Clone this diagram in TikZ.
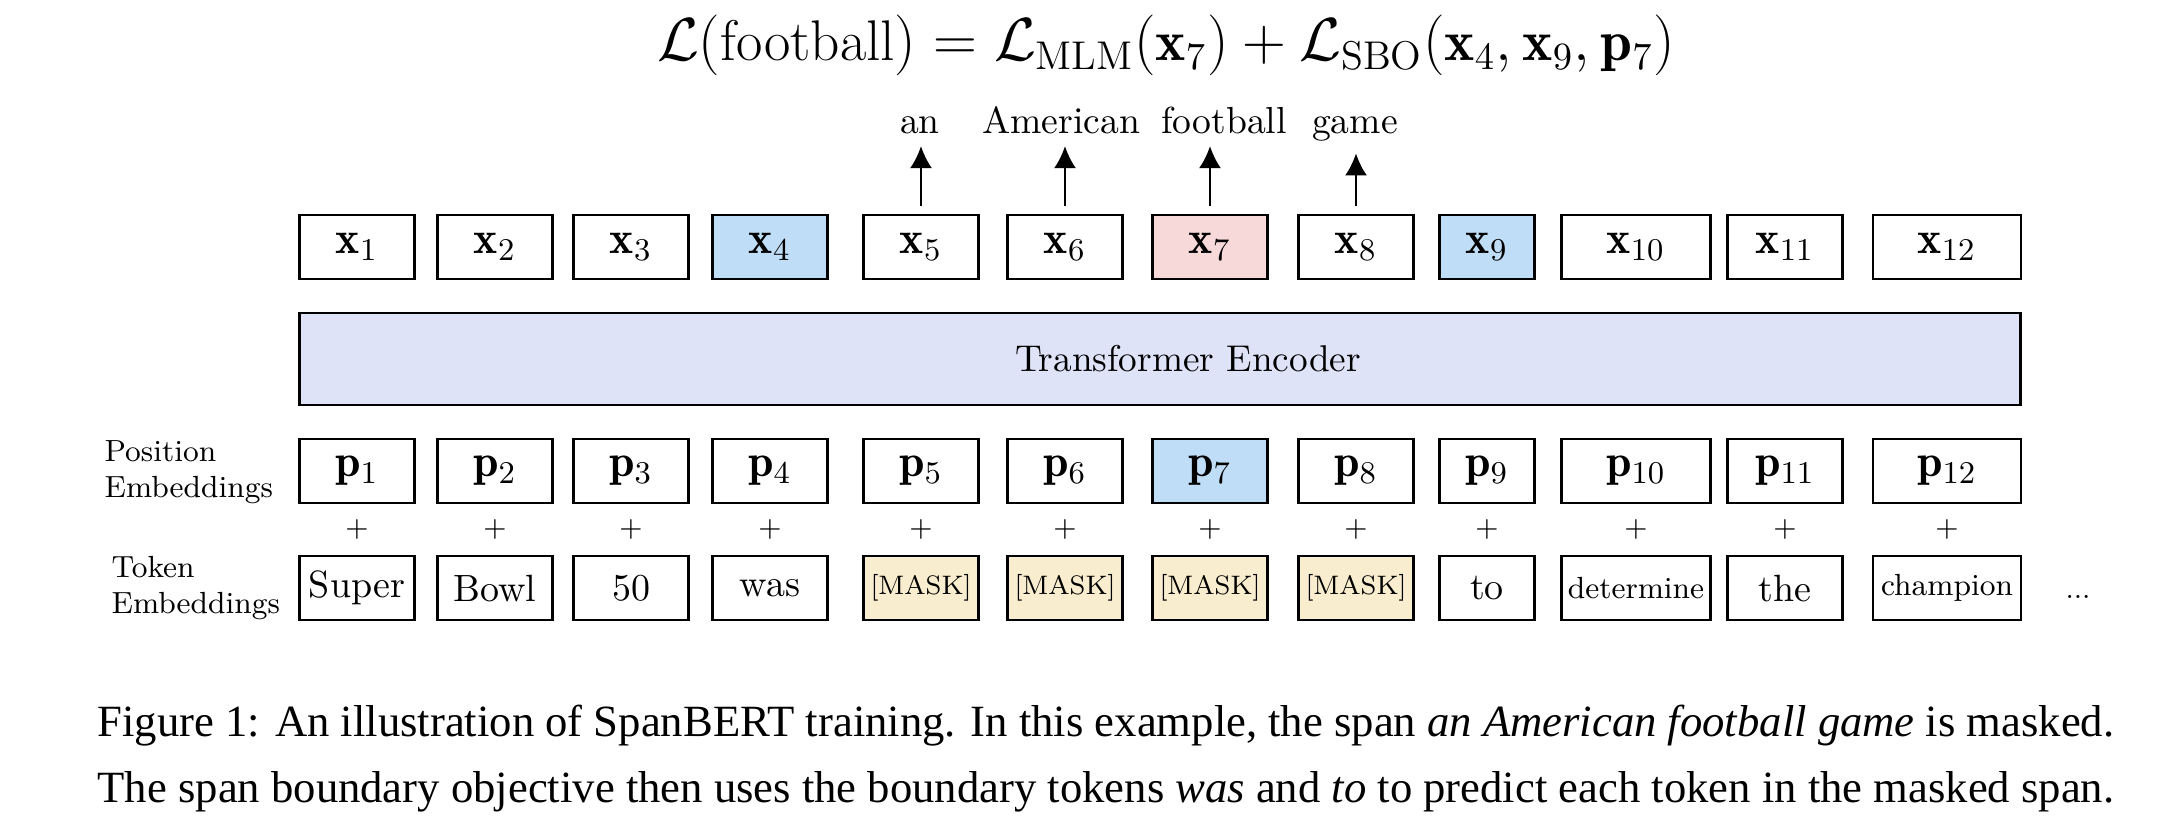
\documentclass[tikz,border=0pt]{standalone}
\usepackage{amsmath, amssymb}
\usepackage{fontspec}
\newfontfamily\capfont{Liberation Serif}
\usepackage{xcolor}
\usepackage{tikz}
\usetikzlibrary{calc, positioning, arrows.meta}

\definecolor{xanh}{HTML}{BFDDF7}
\definecolor{hong}{HTML}{F8D9DA}
\definecolor{vang}{HTML}{F8EDCE}
\definecolor{tim}{HTML}{DEE3F7}

\begin{document}
\begin{tikzpicture}[x=0.01cm, y=-0.01cm, >={Latex[length=2.2mm, width=2.2mm]},
    hop/.style={draw, line width=0.6pt, minimum height=0.64cm, inner sep=0pt},
    chu/.style={anchor=base, inner sep=0pt, font=\fontsize{10.7}{12}\selectfont},
    nhan/.style={anchor=west, align=left, inner sep=0pt, font=\fontsize{8.7}{10.2}\selectfont}]
    \useasboundingbox (0,0) rectangle (2166,836);

    % 1. Công thức hàm mất mát
    \node[anchor=base, inner sep=0pt, font=\fontsize{16.3}{19}\selectfont] (ct) at (1166,60)
        {$\mathcal{L}(\text{football}) = \mathcal{L}_{\text{MLM}}(\mathbf{x}_7)
          + \mathcal{L}_{\text{SBO}}(\mathbf{x}_4, \mathbf{x}_9, \mathbf{p}_7)$};

    % 2. Hàng x_i và hàng p_i
    \foreach \i/\c/\w/\fx/\fp in {1/357/115/white/white, 2/495/115/white/white,
        3/631/115/white/white, 4/770/115/xanh/white, 5/921/115/white/white,
        6/1065/115/white/white, 7/1210/115/hong/xanh, 8/1356/115/white/white,
        9/1487/95/xanh/white, 10/1636/149/white/white, 11/1785/115/white/white,
        12/1947/148/white/white} {
        \node[hop, fill=\fx, minimum width=\w*0.01cm, font=\fontsize{13}{15}\selectfont]
            (x\i) at (\c,247) {$\mathbf{x}_{\i}$};
        \node[hop, fill=\fp, minimum width=\w*0.01cm, font=\fontsize{13}{15}\selectfont]
            (p\i) at (\c,471) {$\mathbf{p}_{\i}$};
    }

    % 3. Khối Transformer Encoder
    \node[draw, line width=0.6pt, fill=tim, minimum width=17.2cm, minimum height=0.92cm,
        inner sep=0pt] (enc) at (1160,359) {};
    \node[inner sep=0pt, font=\fontsize{10.6}{12}\selectfont] (encl) at (1188,359)
        {Transformer Encoder};

    % 4. Hàng token, đặt ngay dưới hàng p_i
    \foreach \i/\t/\w/\f/\s in {1/Super/115/white/10.8, 2/Bowl/115/white/10.8,
        3/50/115/white/10.8, 4/was/115/white/10.8, 5/{[MASK]}/115/vang/7.6,
        6/{[MASK]}/115/vang/7.6, 7/{[MASK]}/115/vang/7.6, 8/{[MASK]}/115/vang/7.6,
        9/to/95/white/10.8, 10/determine/149/white/8.7, 11/the/115/white/10.8,
        12/champion/148/white/8.7} {
        \node[hop, fill=\f, font=\fontsize{\s}{12}\selectfont, below=0.51cm of p\i,
            minimum width=\w*0.01cm] (t\i) {\t};
        \node[inner sep=0pt, font=\fontsize{8}{9}\selectfont] (cong\i)
            at ($(p\i.south)!0.5!(t\i.north)$) {+};
    }
    \node[anchor=base, inner sep=0pt, font=\fontsize{8}{9}\selectfont] (cham) at (2078,598) {...};

    % 5. Nhãn bên trái
    \node[nhan] (lpos) at (104,472) {Position\\Embeddings};
    \node[nhan] (ltok) at (111,588) {Token\\Embeddings};

    % 6. Các từ bị che và mũi tên
    \node[chu] (w5) at (920,133) {an};
    \node[chu] (w6) at (1061,133) {American};
    \node[chu] (w7) at (1224,133) {football};
    \node[chu] (w8) at (1355,133) {game};
    \foreach \i in {5,...,8}
        \draw[->, line width=0.6pt, shorten <=0.08cm, shorten >=0.12cm]
            (x\i.north) -- (x\i.north |- w\i.south);

    % 7. Chú thích hình
    \node[anchor=base west, inner sep=0pt, font=\capfont\fontsize{12.7}{15}\selectfont] (cap1) at (97,736)
        {Figure 1: An illustration of SpanBERT training. In this example, the span \textit{an American football game} is masked.};
    \node[anchor=base west, inner sep=0pt, font=\capfont\fontsize{12.7}{15}\selectfont] (cap2) at (97,802)
        {The span boundary objective then uses the boundary tokens \textit{was} and \textit{to} to predict each token in the masked span.};
\end{tikzpicture}
\end{document}
